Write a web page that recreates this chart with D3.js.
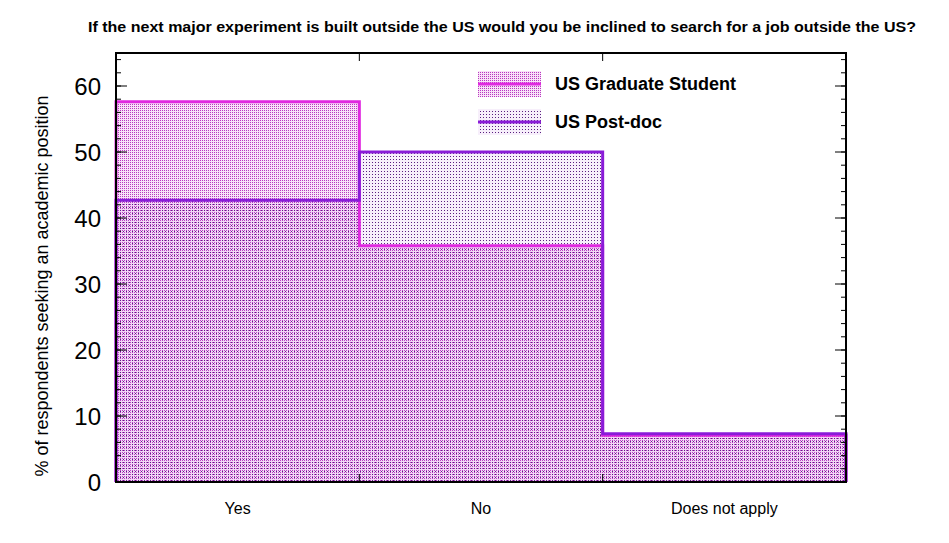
<!DOCTYPE html>
<html>
<head>
<meta charset="utf-8">
<script src="https://cdn.jsdelivr.net/npm/d3@7"></script>
<style>
  body { margin: 0; background: #fff; }
  text { font-family: "Liberation Sans", Arial, sans-serif; }
</style>
</head>
<body>
<script>
// chart data
var categories = ["Yes", "No", "Does not apply"];
var gradValues = [57.6, 35.8, 7.1];
var postdocValues = [42.7, 50.0, 7.3];
var seriesNames = ["US Graduate Student", "US Post-doc"];
var yTicks = [0, 10, 20, 30, 40, 50, 60];
var titleText = "If the next major experiment is built outside the US would you be inclined to search for a job outside the US?";
var yLabel = "% of respondents seeking an academic position";

var width = 949, height = 543;
var margin = {left: 116, right: 103, top: 53, bottom: 61};
var gradColor = "#e028e0", postColor = "#8a1cd8";

var svg = d3.select("body").append("svg")
    .attr("width", width)
    .attr("height", height);

// fill patterns
var defs = svg.append("defs");
var p1 = defs.append("pattern").attr("id", "patGrad")
    .attr("width", 2).attr("height", 2).attr("patternUnits", "userSpaceOnUse");
p1.append("rect").attr("width", 2).attr("height", 2).attr("fill", "#f8e2f8");
p1.append("rect").attr("width", 1).attr("height", 1).attr("fill", "#b838c0");
var p2 = defs.append("pattern").attr("id", "patPost")
    .attr("width", 3).attr("height", 3).attr("patternUnits", "userSpaceOnUse");
p2.append("rect").attr("width", 3).attr("height", 3).attr("fill", "rgba(200,150,230,0.15)");
p2.append("rect").attr("width", 1).attr("height", 1).attr("fill", "#5a2080");

var x = d3.scaleBand()
    .domain(categories)
    .range([margin.left, width - margin.right]);
var y = d3.scaleLinear()
    .domain([0, 65])
    .range([height - margin.bottom, margin.top]);

// step outline through the bins
function stepPoints(vals) {
  var pts = [[x(categories[0]), y(0)]];
  vals.forEach(function(v, i) {
    pts.push([x(categories[i]), y(v)]);
    pts.push([x(categories[i]) + x.bandwidth(), y(v)]);
  });
  pts.push([x(categories[vals.length - 1]) + x.bandwidth(), y(0)]);
  return pts;
}
var line = d3.line();

svg.append("path").attr("d", line(stepPoints(gradValues)) + "Z").attr("fill", "url(#patGrad)");
svg.append("path").attr("d", line(stepPoints(postdocValues)) + "Z").attr("fill", "url(#patPost)");
svg.append("path").attr("d", line(stepPoints(gradValues)))
    .attr("fill", "none").attr("stroke", gradColor).attr("stroke-width", 3);
svg.append("path").attr("d", line(stepPoints(postdocValues)))
    .attr("fill", "none").attr("stroke", postColor).attr("stroke-width", 3);

// y ticks (major + minor) on both sides, inward
var minor = d3.range(0, 65, 2);
var x0 = margin.left, x1 = width - margin.right;
svg.append("g").selectAll("line").data(minor).enter().append("line")
    .attr("x1", x0).attr("x2", x0 + 5)
    .attr("y1", function(d) { return y(d); }).attr("y2", function(d) { return y(d); })
    .attr("stroke", "#000");
svg.append("g").selectAll("line").data(minor).enter().append("line")
    .attr("x1", x1).attr("x2", x1 - 5)
    .attr("y1", function(d) { return y(d); }).attr("y2", function(d) { return y(d); })
    .attr("stroke", "#000");
svg.append("g").selectAll("line").data(yTicks).enter().append("line")
    .attr("x1", x0).attr("x2", x0 + 11)
    .attr("y1", function(d) { return y(d); }).attr("y2", function(d) { return y(d); })
    .attr("stroke", "#000");
svg.append("g").selectAll("line").data(yTicks).enter().append("line")
    .attr("x1", x1).attr("x2", x1 - 11)
    .attr("y1", function(d) { return y(d); }).attr("y2", function(d) { return y(d); })
    .attr("stroke", "#000");
svg.append("g").selectAll("text").data(yTicks).enter().append("text")
    .attr("x", 101).attr("y", function(d) { return y(d); })
    .attr("dy", "0.36em").attr("text-anchor", "end")
    .attr("font-size", 24).text(function(d) { return d; });

// x ticks at bin edges, top and bottom
var edges = categories.slice(1).map(function(c) { return x(c); });
svg.append("g").selectAll("line").data(edges).enter().append("line")
    .attr("x1", function(d) { return d; }).attr("x2", function(d) { return d; })
    .attr("y1", y(0)).attr("y2", y(0) - 8).attr("stroke", "#000");
svg.append("g").selectAll("line").data(edges).enter().append("line")
    .attr("x1", function(d) { return d; }).attr("x2", function(d) { return d; })
    .attr("y1", margin.top).attr("y2", margin.top + 8).attr("stroke", "#000");
svg.append("g").selectAll("text").data(categories).enter().append("text")
    .attr("x", function(d) { return x(d) + x.bandwidth() / 2; })
    .attr("y", 514).attr("text-anchor", "middle")
    .attr("font-size", 16).text(function(d) { return d; });

// frame
svg.append("rect")
    .attr("x", x0).attr("y", margin.top)
    .attr("width", x1 - x0).attr("height", y(0) - margin.top)
    .attr("fill", "none").attr("stroke", "#000").attr("stroke-width", 2);

// legend
var legend = [
  {name: seriesNames[0], pat: "url(#patGrad)", color: gradColor, y: 84},
  {name: seriesNames[1], pat: "url(#patPost)", color: postColor, y: 122}
];
var lg = svg.append("g").selectAll("g").data(legend).enter().append("g");
lg.append("rect").attr("x", 478).attr("y", function(d) { return d.y - 13; })
    .attr("width", 63).attr("height", 26).attr("fill", function(d) { return d.pat; });
lg.append("line").attr("x1", 478).attr("x2", 541)
    .attr("y1", function(d) { return d.y; }).attr("y2", function(d) { return d.y; })
    .attr("stroke", function(d) { return d.color; }).attr("stroke-width", 3);
lg.append("text").attr("x", 555).attr("y", function(d) { return d.y; })
    .attr("dy", "0.36em").attr("font-size", 18).attr("font-weight", "bold")
    .text(function(d) { return d.name; });

// title and y label
svg.append("text").attr("x", 502).attr("y", 32).attr("text-anchor", "middle")
    .attr("font-size", 14).attr("font-weight", "bold")
    .attr("textLength", 828).attr("lengthAdjust", "spacingAndGlyphs")
    .text(titleText);
svg.append("text")
    .attr("transform", "translate(48,286) rotate(-90)")
    .attr("text-anchor", "middle").attr("font-size", 18)
    .text(yLabel);
</script>
</body>
</html>
